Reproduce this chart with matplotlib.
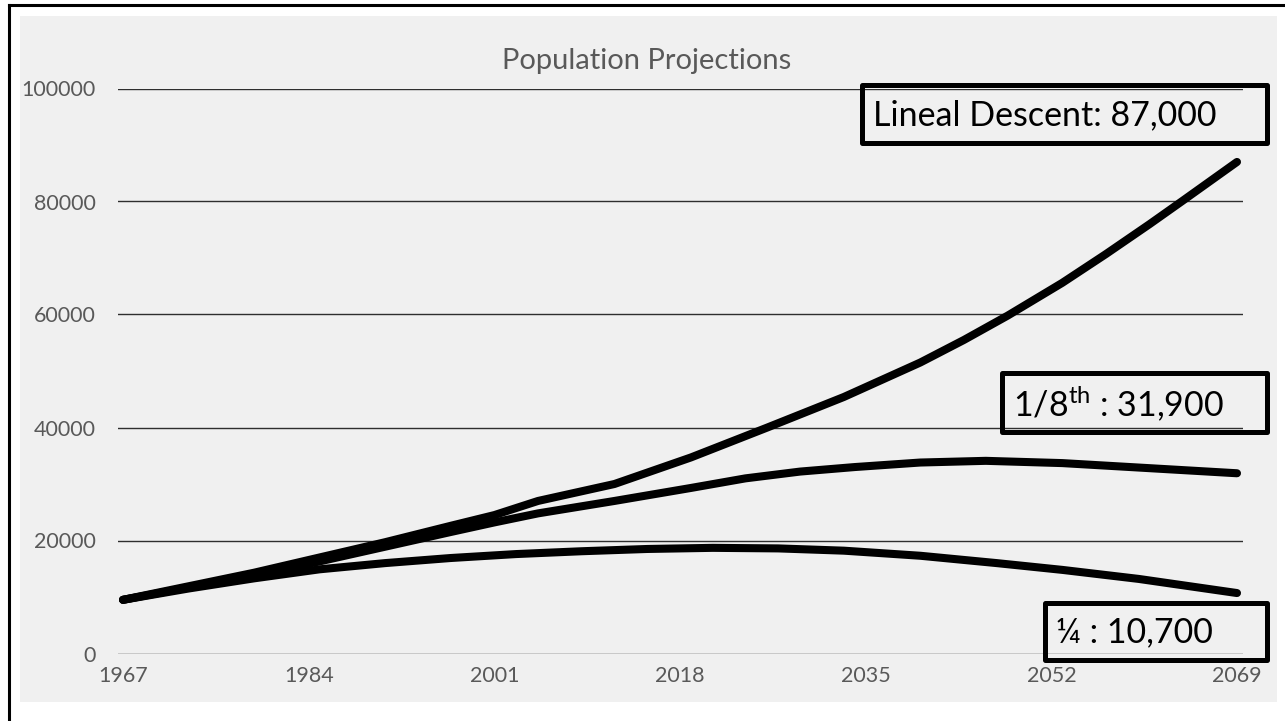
import matplotlib
matplotlib.use("Agg")
import matplotlib.pyplot as plt
from matplotlib.patches import Rectangle
from matplotlib.lines import Line2D

plt.rcParams['font.family'] = ['Lato', 'DejaVu Sans']

# projected population per line of descent
years_lineal = [1967, 1973, 1979, 1985, 1991, 1997, 2001, 2005, 2012, 2019,
                2026, 2033, 2040, 2044, 2048, 2053, 2057, 2061, 2064, 2069]
lineal = [9500, 11900, 14300, 17000, 19700, 22600, 24500, 27000, 30000, 34700,
          40000, 45400, 51500, 55500, 59800, 65600, 70700, 76000, 80100, 87000]

years_eighth = [1967, 1973, 1979, 1985, 1991, 1997, 2001, 2005, 2012, 2019,
                2024, 2029, 2034, 2040, 2046, 2053, 2061, 2069]
eighth = [9500, 11700, 13800, 16300, 18900, 21500, 23200, 24800, 27000, 29300,
          31000, 32200, 33000, 33800, 34100, 33700, 32800, 31900]

years_quarter = [1967, 1973, 1979, 1985, 1991, 1997, 2003, 2009, 2015, 2021,
                 2027, 2033, 2040, 2047, 2053, 2060, 2069]
quarter = [9500, 11500, 13300, 14900, 16000, 16900, 17600, 18100, 18500, 18700,
           18600, 18200, 17300, 16000, 14800, 13200, 10700]

x_ticks = [1967, 1984, 2001, 2018, 2035, 2052, 2069]
y_ticks = [0, 20000, 40000, 60000, 80000, 100000]

W, H = 1285, 721
fig = plt.figure(figsize=(W / 100, H / 100), dpi=100)
fig.patch.set_facecolor("white")

def fx(px):
    return px / W

def fy(py):
    return 1 - py / H

# chart area background and outer frame
fig.patches.append(Rectangle((fx(20), fy(702)), fx(1277) - fx(20), fy(16) - fy(702),
                             transform=fig.transFigure, facecolor="#f0f0f0",
                             edgecolor="none", zorder=-5))
fig.lines.append(Line2D([fx(9), fx(9)], [fy(5), 0], transform=fig.transFigure,
                        color="black", lw=2.2, zorder=-4))
fig.lines.append(Line2D([fx(9), 1], [fy(5), fy(5)], transform=fig.transFigure,
                        color="black", lw=2.2, zorder=-4))

ax = fig.add_axes([fx(118), fy(653.5), fx(1243) - fx(118), fy(88.5) - fy(653.5)])
ax.set_zorder(1)
ax.patch.set_visible(False)
for s in ax.spines.values():
    s.set_visible(False)

ax.set_xlim(1966.54, 2069.55)
ax.set_ylim(0, 100000)
ax.set_xticks(x_ticks)
ax.set_yticks(y_ticks)
ax.set_yticklabels([str(v) for v in y_ticks])
ax.tick_params(length=0, labelsize=15.5, labelcolor="#595959")
ax.tick_params(axis="y", pad=16)
ax.tick_params(axis="x", pad=9)
ax.grid(axis="y", color="#2e2e2e", lw=1.0)
ax.set_axisbelow(True)

for xs, ys in [(years_lineal, lineal), (years_eighth, eighth), (years_quarter, quarter)]:
    ax.plot(xs, ys, color="black", lw=5.8, solid_capstyle="round",
            solid_joinstyle="round", zorder=3)

fig.text(fx(647), fy(61), "Population Projections", ha="center", va="center",
         fontsize=21, color="#595959")

# value call-outs at the right end of each line
callouts = [
    ((862, 85, 1267, 143), f"Lineal Descent: {lineal[-1]:,}"),
    ((1002, 373, 1267, 432), r"1/8$^{\mathregular{th}}$ : " + f"{eighth[-1]:,}"),
    ((1045, 603, 1267, 660), f"¼ : {quarter[-1]:,}"),
]
for (x0, y0, x1, y1), label in callouts:
    fig.patches.append(Rectangle((fx(x0), fy(y1)), fx(x1) - fx(x0), fy(y0) - fy(y1),
                                 transform=fig.transFigure, facecolor="none",
                                 edgecolor="black", lw=3.6, joinstyle="round",
                                 zorder=5))
    fig.text(fx(x0 + 11), fy((y0 + y1) / 2 + 1), label, ha="left", va="center",
             fontsize=24.5, color="black", zorder=6)

fig.savefig("out.png", dpi=100)
